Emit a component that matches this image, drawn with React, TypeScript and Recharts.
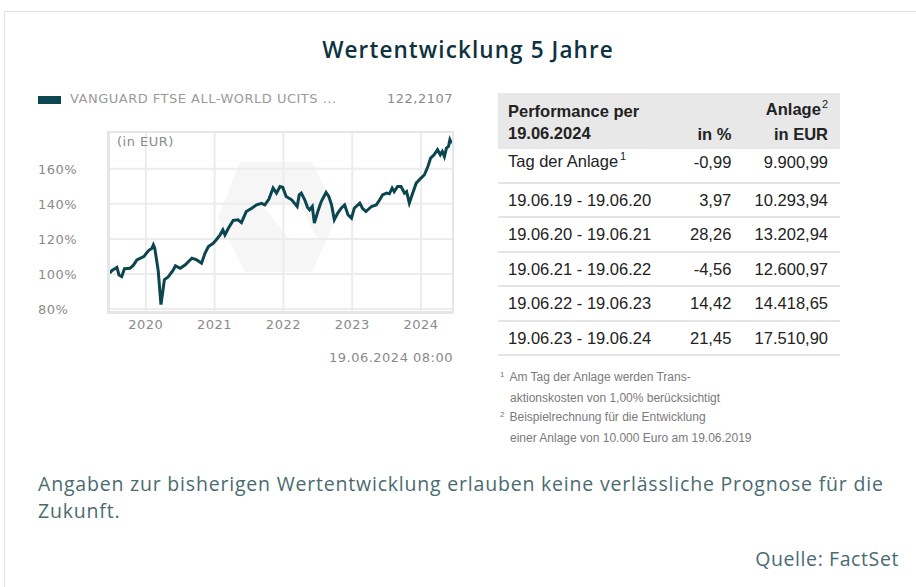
import React from 'react';
import { LineChart, Line, XAxis, YAxis, CartesianGrid } from 'recharts';

// decimal years, with the value in % of the start value
const dates = [
  2019.475, 2019.51, 2019.58, 2019.61, 2019.65, 2019.69, 2019.77, 2019.82, 2019.87, 2019.97,
  2020.04, 2020.09, 2020.11, 2020.13, 2020.18, 2020.22, 2020.24, 2020.27, 2020.33, 2020.4,
  2020.43, 2020.5, 2020.57, 2020.67, 2020.74, 2020.81, 2020.86, 2020.91, 2020.98, 2021.03,
  2021.08, 2021.12, 2021.15, 2021.2, 2021.27, 2021.34, 2021.39, 2021.46, 2021.54, 2021.61,
  2021.68, 2021.73, 2021.79, 2021.85, 2021.9, 2021.95, 2021.99, 2022.04, 2022.12, 2022.16,
  2022.2, 2022.23, 2022.26, 2022.31, 2022.35, 2022.38, 2022.42, 2022.45, 2022.5, 2022.55,
  2022.62, 2022.66, 2022.7, 2022.74, 2022.79, 2022.84, 2022.89, 2022.94, 2022.99, 2023.03,
  2023.11, 2023.15, 2023.2, 2023.28, 2023.35, 2023.4, 2023.44, 2023.5, 2023.54, 2023.58,
  2023.61, 2023.66, 2023.71, 2023.76, 2023.79, 2023.83, 2023.87, 2023.93, 2024.0, 2024.05,
  2024.1, 2024.14, 2024.19, 2024.24, 2024.28, 2024.31, 2024.34, 2024.37, 2024.4, 2024.42,
  2024.445,
];
const values = [
  100.5, 102.0, 103.8, 99.4, 98.5, 103.0, 103.2, 105.0, 108.0, 109.9,
  113.3, 114.7, 116.6, 114.7, 102.0, 82.5, 88.0, 96.6, 98.5, 102.3,
  104.6, 103.2, 105.1, 109.0, 108.0, 106.1, 111.8, 115.6, 117.5, 119.8,
  122.3, 125.1, 122.3, 126.1, 130.5, 130.9, 129.3, 135.6, 137.5, 139.4,
  140.3, 139.4, 142.7, 149.0, 146.1, 149.9, 149.5, 144.2, 142.3, 140.4,
  138.5, 145.1, 146.1, 142.3, 138.0, 136.6, 138.5, 129.0, 135.6, 141.3,
  146.5, 144.2, 139.4, 130.9, 134.7, 137.5, 139.4, 133.7, 131.8, 137.5,
  140.4, 137.5, 135.6, 138.5, 139.4, 142.3, 145.1, 146.1, 145.7, 149.0,
  147.0, 149.9, 149.9, 146.1, 147.0, 140.4, 145.1, 151.8, 154.7, 156.6,
  161.3, 166.1, 168.0, 170.9, 168.0, 169.9, 167.0, 171.8, 172.8, 176.6,
  174.5,
];
const yearTicks = [2020, 2021, 2022, 2023, 2024];
const pctTicks = [80, 100, 120, 140, 160];

const seriesName = 'VANGUARD FTSE ALL-WORLD UCITS ...';
const lastPrice = '122,2107';
const stamp = '19.06.2024 08:00';

const headerCols = ['in %', 'in EUR'];
const periods = [
  'Tag der Anlage',
  '19.06.19 - 19.06.20',
  '19.06.20 - 19.06.21',
  '19.06.21 - 19.06.22',
  '19.06.22 - 19.06.23',
  '19.06.23 - 19.06.24',
];
const pctValues = ['-0,99', '3,97', '28,26', '-4,56', '14,42', '21,45'];
const eurValues = ['9.900,99', '10.293,94', '13.202,94', '12.600,97', '14.418,65', '17.510,90'];

const chartData = dates.map((d, i) => ({ t: d, v: values[i] }));

const tickFont = { fontFamily: 'DejaVu Sans', fontSize: 13, fill: '#8a8a8a', letterSpacing: 0.5 };
const smallText = { fontFamily: 'DejaVu Sans', fontSize: 13, color: '#8a8a8a', letterSpacing: 0.5 };

const YTick = (props: any) => {
  const { y, payload } = props;
  return (
    <text x={8} y={y} dy={5} textAnchor="start" {...tickFont}>
      {payload.value}%
    </text>
  );
};

const tableFont = "'Liberation Sans', Arial, sans-serif";
const gotham = "'Open Sans', sans-serif";

export default function App() {
  return (
    <div style={{ position: 'absolute', left: 0, top: 0, width: 916, height: 587, background: '#fff', overflow: 'hidden' }}>
      {/* card border */}
      <div style={{ position: 'absolute', left: 4, top: 11, width: 940, height: 600, border: '1.5px solid #dde3e4' }} />

      <div style={{ position: 'absolute', left: 0, width: 936, top: 34, textAlign: 'center', fontFamily: gotham, fontSize: 22.5, color: '#0e3240', fontWeight: 600, letterSpacing: 1.1 }}>
        Wertentwicklung 5 Jahre
      </div>

      {/* legend */}
      <div style={{ position: 'absolute', left: 38, top: 96, width: 23, height: 8, background: '#0c4650' }} />
      <div style={{ position: 'absolute', left: 70, top: 91, ...smallText, color: '#9a9a9a' }}>{seriesName}</div>
      <div style={{ position: 'absolute', right: 916 - 453, top: 91, ...smallText }}>{lastPrice}</div>

      {/* faint watermark behind the plot */}
      <svg style={{ position: 'absolute', left: 0, top: 0 }} width={916} height={587}>
        <polygon points="240,162 312,162 338,215 312,272 245,272 218,218" fill="#f6f6f6" />
        <polygon points="262,205 300,205 318,240 290,240" fill="#ffffff" />
      </svg>

      <div style={{ position: 'absolute', left: 30, top: 120 }}>
        <LineChart width={430} height={250} data={chartData} margin={{ top: 12, right: 7, bottom: 27, left: 0 }}>
          <CartesianGrid stroke="#ececec" strokeWidth={2} horizontalValues={pctTicks} verticalValues={yearTicks} />
          <XAxis
            dataKey="t"
            type="number"
            domain={[2019.465, 2024.465]}
            ticks={yearTicks}
            axisLine={false}
            tickLine={false}
            tick={tickFont}
            tickMargin={1}
            height={30}
            allowDataOverflow
          />
          <YAxis
            type="number"
            domain={[77.7, 181]}
            ticks={pctTicks}
            axisLine={false}
            tickLine={false}
            tick={<YTick />}
            width={79}
            allowDataOverflow
          />
          <Line type="linear" dataKey="v" stroke="#0b4650" strokeWidth={3} dot={false} isAnimationActive={false} />
        </LineChart>
      </div>
      {/* plot frame */}
      <div style={{ position: 'absolute', left: 107, top: 131, width: 347, height: 183, borderTop: '2px solid #e6e6e6', borderRight: '2px solid #e6e6e6', borderLeft: '3px solid #e6e6e6', borderBottom: '3px solid #e6e6e6', boxSizing: 'border-box' }} />
      <div style={{ position: 'absolute', left: 117, top: 134, ...smallText }}>(in EUR)</div>
      <div style={{ position: 'absolute', right: 916 - 453, top: 350, ...smallText }}>{stamp}</div>

      {/* performance table */}
      <table style={{ position: 'absolute', left: 498, top: 93, width: 342, borderCollapse: 'collapse', fontFamily: tableFont, fontSize: 16.5, color: '#222' }}>
        <thead>
          <tr style={{ background: '#e8e8e8', fontWeight: 'bold' }}>
            <td style={{ padding: '0 0 0 10px', height: 28, lineHeight: '20px', verticalAlign: 'bottom' }}>Performance per</td>
            <td colSpan={2} style={{ padding: '0 12px 0 0', textAlign: 'right', verticalAlign: 'bottom', lineHeight: '20px' }}>
              Anlage<span style={{ fontSize: 11, fontWeight: 'normal', position: 'relative', top: -7, marginLeft: 1 }}>2</span>
            </td>
          </tr>
          <tr style={{ background: '#e8e8e8', fontWeight: 'bold' }}>
            <td style={{ padding: '0 0 0 10px', height: 28, lineHeight: '24px', verticalAlign: 'top' }}>19.06.2024</td>
            <td style={{ textAlign: 'right', paddingRight: 6, verticalAlign: 'top', lineHeight: '24px' }}>{headerCols[0]}</td>
            <td style={{ textAlign: 'right', paddingRight: 12, verticalAlign: 'top', lineHeight: '24px' }}>{headerCols[1]}</td>
          </tr>
        </thead>
        <tbody>
          {periods.map((p, i) => {
            const shift = { position: 'relative' as const, top: i === 0 ? -3 : 0 };
            return (
              <tr key={p} style={{ borderBottom: '2px solid #e4e4e4' }}>
                <td style={{ padding: '0 0 0 10px', height: 32.5, lineHeight: '20px' }}>
                  <span style={shift}>
                    {p}
                    {i === 0 ? <span style={{ fontSize: 11, position: 'relative', top: -7, marginLeft: 2 }}>1</span> : null}
                  </span>
                </td>
                <td style={{ textAlign: 'right', paddingRight: 6, lineHeight: '20px' }}><span style={shift}>{pctValues[i]}</span></td>
                <td style={{ textAlign: 'right', paddingRight: 12, lineHeight: '20px' }}><span style={shift}>{eurValues[i]}</span></td>
              </tr>
            );
          })}
        </tbody>
      </table>

      {/* footnotes */}
      <div style={{ position: 'absolute', left: 500, top: 368, fontFamily: tableFont, fontSize: 12, color: '#7a7a7a', lineHeight: '19.6px' }}>
        <div><span style={{ fontSize: 8, position: 'relative', top: -4, marginRight: 5 }}>1</span>Am Tag der Anlage werden Trans-</div>
        <div style={{ paddingLeft: 10 }}>aktionskosten von 1,00% berücksichtigt</div>
        <div><span style={{ fontSize: 8, position: 'relative', top: -4, marginRight: 5 }}>2</span>Beispielrechnung für die Entwicklung</div>
        <div style={{ paddingLeft: 10 }}>einer Anlage von 10.000 Euro am 19.06.2019</div>
      </div>

      <div style={{ position: 'absolute', left: 38, top: 470, width: 860, fontFamily: gotham, fontSize: 19.5, color: '#4a6b70', lineHeight: '27px', letterSpacing: 0.8 }}>
        Angaben zur bisherigen Wertentwicklung erlauben keine verlässliche Prognose für die Zukunft.
      </div>
      <div style={{ position: 'absolute', right: 17, top: 545, fontFamily: gotham, fontSize: 19.5, color: '#4a6b70', letterSpacing: 0.6 }}>
        Quelle: FactSet
      </div>
    </div>
  );
}
